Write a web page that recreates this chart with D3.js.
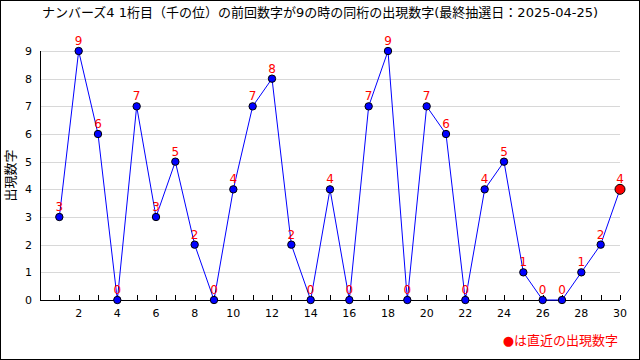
<!DOCTYPE html>
<html>
<head>
<meta charset="utf-8">
<script src="https://cdn.jsdelivr.net/npm/d3@7"></script>
<style>
  body { margin: 0; background: #fff; }
  text { font-family: "DejaVu Sans", "Noto Sans CJK JP", sans-serif; }
</style>
</head>
<body>
<div id="chart"></div>
<script>
const chartTitle = "ナンバーズ4 1桁目（千の位）の前回数字が9の時の同桁の出現数字(最終抽選日：2025-04-25)";
const drawIndex = [1,2,3,4,5,6,7,8,9,10,11,12,13,14,15,16,17,18,19,20,21,22,23,24,25,26,27,28,29,30];
const digits = [3,9,6,0,7,3,5,2,0,4,7,8,2,0,4,0,7,9,0,7,6,0,4,5,1,0,0,1,2,4];
const yTicks = [0,1,2,3,4,5,6,7,8,9];
const xTickLabels = [2,4,6,8,10,12,14,16,18,20,22,24,26,28,30];

(function() {
  const width = 640, height = 360;
  const svg = d3.select("#chart").append("svg")
    .attr("width", width)
    .attr("height", height);

  svg.append("rect")
    .attr("x", 0.5).attr("y", 0.5)
    .attr("width", width - 1).attr("height", height - 1)
    .attr("fill", "#fff")
    .attr("stroke", "#000");

  const x = d3.scaleLinear().domain([0, 30]).range([40, 620]);
  const y = d3.scaleLinear().domain([0, 9]).range([300, 51]);

  // grid
  svg.append("g").selectAll("line")
    .data(yTicks.filter(d => d > 0))
    .enter().append("line")
    .attr("x1", x(0)).attr("x2", x(30))
    .attr("y1", d => Math.round(y(d)) + 0.5).attr("y2", d => Math.round(y(d)) + 0.5)
    .attr("stroke", "#d8d8d8");

  // y labels
  svg.append("g").selectAll("text")
    .data(yTicks)
    .enter().append("text")
    .attr("x", 32)
    .attr("y", d => y(d) + 4)
    .attr("text-anchor", "end")
    .attr("font-size", 11)
    .text(d => d);

  // x ticks (pointing up)
  svg.append("g").selectAll("line")
    .data(drawIndex)
    .enter().append("line")
    .attr("x1", d => Math.round(x(d)) + 0.5).attr("x2", d => Math.round(x(d)) + 0.5)
    .attr("y1", 295).attr("y2", 300)
    .attr("stroke", "#000");

  svg.append("g").selectAll("text")
    .data(xTickLabels)
    .enter().append("text")
    .attr("x", d => x(d))
    .attr("y", 317)
    .attr("text-anchor", "middle")
    .attr("font-size", 11)
    .text(d => d);

  // axes
  svg.append("line")
    .attr("x1", 40.5).attr("x2", 40.5).attr("y1", 51).attr("y2", 300)
    .attr("stroke", "#000");
  svg.append("line")
    .attr("x1", 40).attr("x2", 620).attr("y1", 300.5).attr("y2", 300.5)
    .attr("stroke", "#000");

  const pts = drawIndex.map((d, i) => ({ n: d, v: digits[i] }));

  svg.append("path")
    .datum(pts)
    .attr("fill", "none")
    .attr("stroke", "#0000ff")
    .attr("stroke-width", 1)
    .attr("d", d3.line().x(d => x(d.n)).y(d => y(d.v)));

  const last = pts.length - 1;
  svg.append("g").selectAll("circle")
    .data(pts)
    .enter().append("circle")
    .attr("cx", d => x(d.n))
    .attr("cy", d => y(d.v))
    .attr("r", (d, i) => i === last ? 5 : 3.7)
    .attr("fill", (d, i) => i === last ? "#ff0000" : "#0000ff")
    .attr("stroke", "#000")
    .attr("stroke-width", 1);

  svg.append("g").selectAll("text")
    .data(pts)
    .enter().append("text")
    .attr("x", d => x(d.n))
    .attr("y", d => y(d.v) - 6)
    .attr("text-anchor", "middle")
    .attr("font-size", 12)
    .attr("fill", "#ff0000")
    .text(d => d.v);

  svg.append("text")
    .attr("x", 320)
    .attr("y", 17)
    .attr("text-anchor", "middle")
    .attr("font-size", 13)
    .text(chartTitle);

  svg.append("text")
    .attr("transform", `translate(15, ${y(4.5)}) rotate(-90)`)
    .attr("text-anchor", "middle")
    .attr("font-size", 13)
    .text("出現数字");

  svg.append("text")
    .attr("x", 618)
    .attr("y", 345)
    .attr("text-anchor", "end")
    .attr("font-size", 13)
    .attr("fill", "#ff0000")
    .text("●は直近の出現数字");
})();
</script>
</body>
</html>
